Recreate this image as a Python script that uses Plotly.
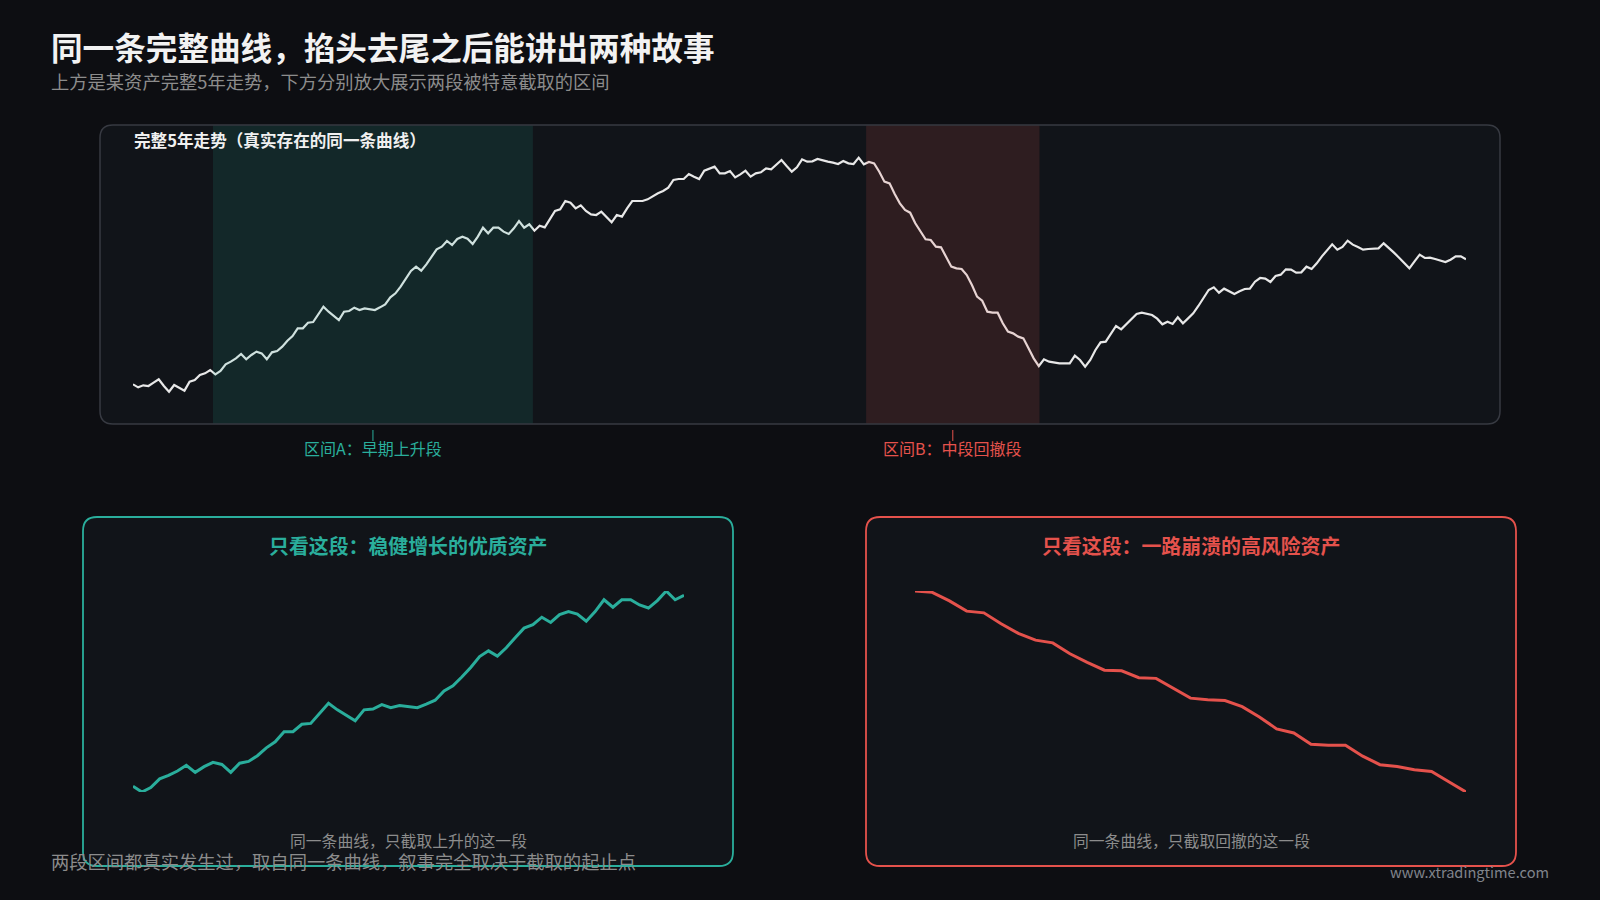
import plotly.graph_objects as go

W, H = 1600, 900

# ---------------- texts ----------------
TITLE = "同一条完整曲线，掐头去尾之后能讲出两种故事"
SUBTITLE = "上方是某资产完整5年走势，下方分别放大展示两段被特意截取的区间"
TOP_LABEL = "完整5年走势（真实存在的同一条曲线）"
LABEL_A = "区间A：早期上升段"
LABEL_B = "区间B：中段回撤段"
TITLE_A = "只看这段：稳健增长的优质资产"
TITLE_B = "只看这段：一路崩溃的高风险资产"
CAPTION_A = "同一条曲线，只截取上升的这一段"
CAPTION_B = "同一条曲线，只截取回撤的这一段"
FOOTER = "两段区间都真实发生过，取自同一条曲线，叙事完全取决于截取的起止点"
WATERMARK = "www.xtradingtime.com"

# ---------------- data (5 years, weekly) ----------------
weeks = list(range(260))
price = [
    267, 258, 264, 262, 272, 282, 262, 245, 265, 257,
    248, 275, 280, 295, 300, 310, 297, 307, 327, 335,
    345, 358, 342, 355, 365, 360, 342, 363, 367, 380,
    398, 412, 435, 435, 452, 454, 478, 500, 485, 472,
    460, 485, 487, 497, 490, 495, 492, 490, 498, 507,
    528, 540, 560, 582, 607, 620, 608, 627, 650, 672,
    680, 697, 685, 703, 710, 704, 688, 710, 737, 720,
    737, 737, 725, 718, 735, 757, 737, 747, 728, 743,
    738, 762, 787, 792, 817, 812, 795, 804, 787, 777,
    775, 785, 770, 753, 775, 770, 795, 817, 817, 817,
    822, 832, 840, 847, 857, 880, 883, 883, 898, 890,
    883, 908, 913, 920, 900, 900, 907, 888, 897, 908,
    890, 900, 903, 915, 912, 925, 940, 922, 905, 918,
    942, 935, 936, 943, 938, 935, 932, 928, 937, 930,
    928, 947, 927, 934, 930, 905, 875, 870, 838, 810,
    790, 782, 750, 725, 702, 700, 680, 678, 650, 620,
    615, 613, 595, 565, 530, 518, 485, 482, 482, 450,
    425, 420, 410, 405, 375, 345, 322, 342, 335, 332,
    330, 330, 330, 353, 340, 320, 340, 370, 393, 395,
    420, 442, 432, 448, 465, 478, 482, 478, 475, 464,
    447, 455, 448, 468, 450, 465, 480, 502, 525, 550,
    558, 542, 554, 546, 538, 546, 553, 554, 575, 586,
    584, 574, 592, 596, 612, 611, 602, 603, 620, 613,
    630, 651, 670, 687, 671, 679, 698, 686, 679, 671,
    673, 674, 675, 690, 677, 662, 647, 632, 615, 636,
    656, 646, 647, 643, 638, 634, 641, 651, 651, 642,
]

# selected windows (fractions of the full span) and their index slices
BAND_A = (0.06, 0.30)
BAND_B = (0.55, 0.68)
A_START, A_END = 15, 77    # inclusive
B_START, B_END = 143, 175  # inclusive

weeks_a = weeks[A_START:A_END + 1]
price_a = price[A_START:A_END + 1]
weeks_b = weeks[B_START:B_END + 1]
price_b = price[B_START:B_END + 1]

# ---------------- styles ----------------
BG = "#0d0e12"
PANEL = "#111419"
TOP_BORDER = "#373a42"
TEAL = "#2aae9c"
RED = "#e5524c"
LINE = "#e8e8e8"
GRAY = "#8c8c8c"
FONT = "Noto Sans CJK SC, Noto Sans, sans-serif"


def px(x):
    return x / W


def py(y):
    return 1 - y / H


def rrect(x0, y0, x1, y1, r):
    return (
        f"M {px(x0 + r)},{py(y0)} L {px(x1 - r)},{py(y0)} "
        f"Q {px(x1)},{py(y0)} {px(x1)},{py(y0 + r)} "
        f"L {px(x1)},{py(y1 - r)} Q {px(x1)},{py(y1)} {px(x1 - r)},{py(y1)} "
        f"L {px(x0 + r)},{py(y1)} Q {px(x0)},{py(y1)} {px(x0)},{py(y1 - r)} "
        f"L {px(x0)},{py(y0 + r)} Q {px(x0)},{py(y0)} {px(x0 + r)},{py(y0)} Z"
    )


fig = go.Figure()

fig.add_trace(go.Scatter(x=weeks, y=price, mode="lines",
                         line=dict(color=LINE, width=2.2), hoverinfo="skip",
                         xaxis="x", yaxis="y"))
fig.add_trace(go.Scatter(x=weeks_a, y=price_a, mode="lines",
                         line=dict(color=TEAL, width=3), hoverinfo="skip",
                         xaxis="x2", yaxis="y2"))
fig.add_trace(go.Scatter(x=weeks_b, y=price_b, mode="lines",
                         line=dict(color=RED, width=3), hoverinfo="skip",
                         xaxis="x3", yaxis="y3"))

n = len(weeks) - 1
ax = dict(visible=False, fixedrange=True, showgrid=False, zeroline=False)
fig.update_layout(
    xaxis=dict(ax, domain=[px(133), px(1466)], range=[weeks[0], weeks[-1]]),
    yaxis=dict(ax, domain=[py(406.67), py(140)], range=[200, 1000]),
    xaxis2=dict(ax, domain=[px(133), px(684)], range=[weeks_a[0], weeks_a[-1]]),
    yaxis2=dict(ax, domain=[py(792), py(591)], range=[min(price_a), max(price_a)]),
    xaxis3=dict(ax, domain=[px(915), px(1466)], range=[weeks_b[0], weeks_b[-1]]),
    yaxis3=dict(ax, domain=[py(792), py(591)], range=[min(price_b), max(price_b)]),
)

shapes = [
    dict(type="path", xref="paper", yref="paper", path=rrect(100, 125, 1500, 424, 13),
         fillcolor=PANEL, line=dict(color=TOP_BORDER, width=1.5), layer="below"),
    dict(type="path", xref="paper", yref="paper", path=rrect(83, 517, 733, 866, 14),
         fillcolor=PANEL, line=dict(color=TEAL, width=1.8), layer="below"),
    dict(type="path", xref="paper", yref="paper", path=rrect(866, 517, 1516, 866, 14),
         fillcolor=PANEL, line=dict(color=RED, width=1.8), layer="below"),
    dict(type="rect", xref="x", yref="paper", x0=BAND_A[0] * n, x1=BAND_A[1] * n,
         y0=py(423.3), y1=py(125.7), fillcolor="rgba(42,174,156,0.13)",
         line=dict(width=0), layer="above"),
    dict(type="rect", xref="x", yref="paper", x0=BAND_B[0] * n, x1=BAND_B[1] * n,
         y0=py(423.3), y1=py(125.7), fillcolor="rgba(229,82,76,0.14)",
         line=dict(width=0), layer="above"),
]
ca = (BAND_A[0] + BAND_A[1]) / 2 * n
cb = (BAND_B[0] + BAND_B[1]) / 2 * n
shapes += [
    dict(type="line", xref="x", yref="paper", x0=ca, x1=ca, y0=py(430), y1=py(441),
         line=dict(color=TEAL, width=1)),
    dict(type="line", xref="x", yref="paper", x0=cb, x1=cb, y0=py(430), y1=py(441),
         line=dict(color=RED, width=1)),
]


def ann(text, x, y, size, color, xanchor="left", bold=False, xref="paper"):
    return dict(text=f"<b>{text}</b>" if bold else text,
                x=x if xref != "paper" else px(x), y=py(y), xref=xref, yref="paper",
                xanchor=xanchor, yanchor="middle", showarrow=False,
                font=dict(family=FONT, size=size, color=color))


annotations = [
    ann(TITLE, 49, 45.5, 31.6, "#f2f2f2", bold=True),
    ann(SUBTITLE, 49, 81, 18.3, GRAY),
    ann(TOP_LABEL, 132, 140, 16.6, "#f0f0f0", bold=True),
    ann(LABEL_A, ca, 448, 16, TEAL, xanchor="center", xref="x"),
    ann(LABEL_B, cb, 448, 16, RED, xanchor="center", xref="x"),
    ann(TITLE_A, 408, 545, 19.9, TEAL, xanchor="center", bold=True),
    ann(TITLE_B, 1191, 545, 19.9, RED, xanchor="center", bold=True),
    ann(CAPTION_A, 408, 840, 15.8, GRAY, xanchor="center"),
    ann(CAPTION_B, 1191, 840, 15.8, GRAY, xanchor="center"),
    ann(FOOTER, 49, 861, 18.3, GRAY),
    ann(WATERMARK, 1551, 871, 14.6, "#80848c", xanchor="right"),
]

fig.update_layout(
    width=W, height=H, margin=dict(l=0, r=0, t=0, b=0),
    paper_bgcolor=BG, plot_bgcolor="rgba(0,0,0,0)",
    showlegend=False, shapes=shapes, annotations=annotations,
    font=dict(family=FONT),
)

fig.write_html(
    "out.html",
    config={"displayModeBar": False},
    post_script="document.body.style.margin='0';document.body.style.background='#0d0e12';document.body.style.overflow='hidden';",
)
